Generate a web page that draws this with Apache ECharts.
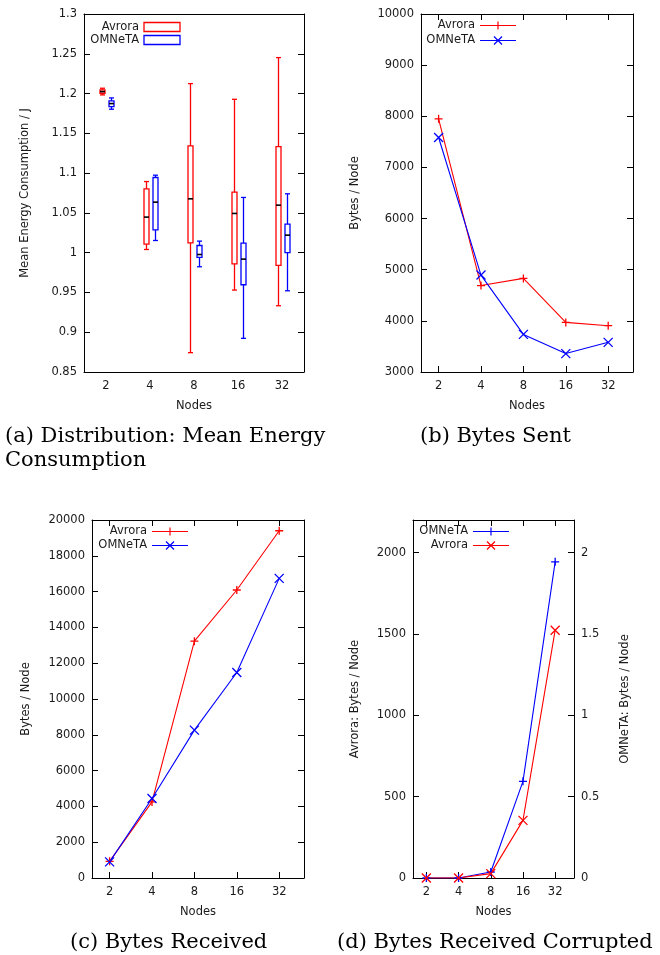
<!DOCTYPE html>
<html>
<head>
<meta charset="utf-8">
<script src="https://cdn.jsdelivr.net/npm/echarts@6/dist/echarts.min.js"></script>
<style>
  html, body { margin: 0; padding: 0; background: #fff; }
  #main { width: 660px; height: 955px; }
</style>
</head>
<body>
<div id="main"></div>
<script>
// x categories (number of nodes)
var nodes = [2, 4, 8, 16, 32];

// (a) energy distribution: [min, q1, median, q3, max]
var avroraEnergy = [
  [1.1983, 1.2004, 1.2025, 1.2046, 1.2067],
  [1.004, 1.0107, 1.0447, 1.0802, 1.0894],
  [0.8743, 1.0124, 1.0677, 1.1342, 1.2125],
  [0.953, 0.986, 1.0493, 1.076, 1.1928],
  [0.9333, 0.984, 1.0597, 1.1334, 1.2452]
];
var omnetaEnergy = [
  [1.1803, 1.1836, 1.1874, 1.1907, 1.1945],
  [1.0153, 1.0287, 1.0635, 1.0945, 1.0974],
  [0.9823, 0.994, 0.9977, 1.009, 1.0145],
  [0.8923, 0.9597, 0.9919, 1.012, 1.0694],
  [0.9521, 1.0, 1.022, 1.0359, 1.074]
];

// (b) bytes sent
var avroraSent = [7950, 4690, 4830, 3970, 3905];
var omnetaSent = [7585, 4895, 3735, 3360, 3580];

// (c) bytes received
var avroraRecv = [930, 4250, 13230, 16090, 19400];
var omnetaRecv = [900, 4440, 8260, 11480, 16740];

// (d) bytes received corrupted (Avrora left axis, OMNeTA right axis)
var avroraCorrupt = [0, 0, 27, 354, 1523];
var omnetaCorrupt = [0, 0, 0.037, 0.594, 1.943];

var RED = '#ff0000';
var BLUE = '#0000ff';
var TXT = '#1a1a1a';
var FONT = 'DejaVu Sans';
var PLUS = 'path://M5,0L5,10M0,5L10,5';
var CROSS = 'path://M0,0L10,10M10,0L0,10';
var LEG_PLUS = 'path://M0,5L36,5M18,1L18,9';
var LEG_CROSS = 'path://M0,5L36,5M14,1L22,9M22,1L14,9';

var chart = echarts.init(document.getElementById('main'), null, { renderer: 'canvas' });

var logNodes = nodes.map(function (n) { return Math.log2(n); });

function pairs(vals) {
  return vals.map(function (v, i) { return [logNodes[i], v]; });
}

function plain(v) {
  return String(parseFloat(Number(v).toFixed(6)));
}

var nameStyle = { color: TXT, fontSize: 11.5, fontFamily: FONT };

// x axis for the line panels (log2 spaced nodes)
function nodeAxis(grid, top) {
  return {
    type: 'value', gridIndex: grid, position: top ? 'top' : 'bottom',
    min: Math.log2(1.5), max: Math.log2(48),
    name: top ? '' : 'Nodes', nameLocation: 'middle', nameGap: 28, nameTextStyle: nameStyle,
    axisLine: { show: true, onZero: false, lineStyle: { color: '#000', width: 1 } },
    axisTick: { show: true, inside: true, length: 6, customValues: logNodes, lineStyle: { color: '#000' } },
    axisLabel: {
      show: !top, margin: 8, customValues: logNodes,
      color: TXT, fontSize: 11.5, fontFamily: FONT,
      formatter: function (v) { return String(Math.round(Math.pow(2, v))); }
    },
    splitLine: { show: false }
  };
}

function valAxis(grid, opt) {
  var right = opt.right;
  return {
    type: 'value', gridIndex: grid, position: right ? 'right' : 'left',
    min: opt.min, max: opt.max, interval: opt.interval,
    name: opt.name || '', nameLocation: 'middle', nameGap: opt.gap || 50, nameRotate: 90,
    nameTextStyle: nameStyle,
    axisLine: { show: true, onZero: false, lineStyle: { color: '#000', width: 1 } },
    axisTick: { show: true, inside: true, length: 6, lineStyle: { color: '#000' } },
    axisLabel: {
      show: !!opt.labels, margin: 7, showMaxLabel: opt.showMax !== false,
      color: TXT, fontSize: 11.5, fontFamily: FONT, formatter: plain
    },
    splitLine: { show: false }
  };
}

function boxItem(color, shift) {
  return function (params, api) {
    var i = api.value(0);
    var pts = [1, 2, 3, 4, 5].map(function (k) { return api.coord([i, api.value(k)]); });
    var x = Math.round(pts[0][0] + shift) + 0.5;
    var hw = 2.5;
    function ln(x1, y1, x2, y2, c, w) {
      return { type: 'line', shape: { x1: x1, y1: y1, x2: x2, y2: y2 },
        style: { stroke: c || color, lineWidth: w || 1.3 } };
    }
    return {
      type: 'group',
      children: [
        ln(x, pts[0][1], x, pts[1][1]),
        ln(x, pts[3][1], x, pts[4][1]),
        ln(x - hw, pts[0][1], x + hw, pts[0][1]),
        ln(x - hw, pts[4][1], x + hw, pts[4][1]),
        { type: 'rect', shape: { x: x - hw, y: pts[3][1], width: hw * 2, height: pts[1][1] - pts[3][1] },
          style: { fill: 'none', stroke: color, lineWidth: 1.3 } },
        ln(x - hw, pts[2][1], x + hw, pts[2][1], '#000', 1.6)
      ]
    };
  };
}

function lineSeries(name, vals, color, symbol, size, xi, yi) {
  return {
    name: name, type: 'line', xAxisIndex: xi, yAxisIndex: yi,
    data: pairs(vals), symbol: symbol, symbolSize: size, showSymbol: true,
    lineStyle: { color: color, width: 1.1 },
    itemStyle: { color: color, borderColor: color, borderWidth: 1.3 },
    emphasis: { disabled: true }
  };
}

function legendFor(left, top, gap, items) {
  return {
    orient: 'vertical', left: left, top: top, padding: 0, itemGap: gap,
    align: 'right', itemWidth: 36, itemHeight: 9, selectedMode: false,
    textStyle: { color: TXT, fontSize: 11.5, fontFamily: FONT, width: 50, lineHeight: 13 },
    data: items
  };
}

function legItem(name, icon, color) {
  return { name: name, icon: icon,
    itemStyle: { color: 'transparent', borderColor: color, borderWidth: 1.2 } };
}

var capStyle = { fontFamily: 'DejaVu Serif', fontSize: 21, fontWeight: 'normal', color: '#000', lineHeight: 24 };

var option = {
  animation: false,
  backgroundColor: '#fff',
  title: [
    { text: '(a) Distribution: Mean Energy\nConsumption', left: 5, top: 425, padding: 0, textStyle: capStyle },
    { text: '(b) Bytes Sent', left: 420, top: 425, padding: 0, textStyle: capStyle },
    { text: '(c) Bytes Received', left: 70, top: 931, padding: 0, textStyle: capStyle },
    { text: '(d) Bytes Received Corrupted', left: 337, top: 931, padding: 0, textStyle: capStyle }
  ],
  grid: [
    { left: 84, top: 14, width: 220, height: 358 },
    { left: 421, top: 14, width: 212, height: 358 },
    { left: 92, top: 520, width: 212, height: 358 },
    { left: 413, top: 520, width: 161, height: 358 }
  ],
  legend: [
    legendFor(89, 20.5, 0, [
      { name: 'Avrora', icon: 'rect', itemHeight: 7, itemStyle: { color: 'transparent', borderColor: RED, borderWidth: 1.3 } },
      { name: 'OMNeTA', icon: 'rect', itemHeight: 7, itemStyle: { color: 'transparent', borderColor: BLUE, borderWidth: 1.3 } }
    ]),
    legendFor(425, 19, 2, [legItem('Avrora', LEG_PLUS, RED), legItem('OMNeTA', LEG_CROSS, BLUE)]),
    legendFor(97, 525, 1, [legItem('Avrora', LEG_PLUS, RED), legItem('OMNeTA', LEG_CROSS, BLUE)]),
    legendFor(418, 525, 1, [legItem('OMNeTA', LEG_PLUS, BLUE), legItem('Avrora', LEG_CROSS, RED)])
  ],
  xAxis: [
    {
      type: 'category', gridIndex: 0, data: nodes.map(String), boundaryGap: true,
      name: 'Nodes', nameLocation: 'middle', nameGap: 28, nameTextStyle: nameStyle,
      axisLine: { show: true, lineStyle: { color: '#000', width: 1 } },
      axisTick: { show: false },
      axisLabel: { margin: 8, color: TXT, fontSize: 11.5, fontFamily: FONT },
      splitLine: { show: false }
    },
    {
      type: 'category', gridIndex: 0, data: nodes.map(String), position: 'top',
      axisLine: { show: true, lineStyle: { color: '#000', width: 1 } },
      axisTick: { show: false }, axisLabel: { show: false }, splitLine: { show: false }
    },
    nodeAxis(1, false), nodeAxis(1, true),
    nodeAxis(2, false), nodeAxis(2, true),
    nodeAxis(3, false), nodeAxis(3, true)
  ],
  yAxis: [
    valAxis(0, { min: 0.85, max: 1.3, interval: 0.05, labels: true, name: 'Mean Energy Consumption / J', gap: 53 }),
    valAxis(0, { min: 0.85, max: 1.3, interval: 0.05, right: true }),
    valAxis(1, { min: 3000, max: 10000, interval: 1000, labels: true, name: 'Bytes / Node', gap: 60 }),
    valAxis(1, { min: 3000, max: 10000, interval: 1000, right: true }),
    valAxis(2, { min: 0, max: 20000, interval: 2000, labels: true, name: 'Bytes / Node', gap: 60 }),
    valAxis(2, { min: 0, max: 20000, interval: 2000, right: true }),
    valAxis(3, { min: 0, max: 2200, interval: 500, labels: true, showMax: false, name: 'Avrora: Bytes / Node', gap: 52 }),
    valAxis(3, { min: 0, max: 2.2, interval: 0.5, labels: true, showMax: false, right: true, name: 'OMNeTA: Bytes / Node', gap: 45 })
  ],
  series: [
    {
      name: 'Avrora', type: 'custom', xAxisIndex: 0, yAxisIndex: 0,
      renderItem: boxItem(RED, -4.5), encode: { x: 0, y: [1, 2, 3, 4, 5] },
      data: avroraEnergy.map(function (d, i) { return [i].concat(d); })
    },
    {
      name: 'OMNeTA', type: 'custom', xAxisIndex: 0, yAxisIndex: 0,
      renderItem: boxItem(BLUE, 4.5), encode: { x: 0, y: [1, 2, 3, 4, 5] },
      data: omnetaEnergy.map(function (d, i) { return [i].concat(d); })
    },
    lineSeries('Avrora', avroraSent, RED, PLUS, 8, 2, 2),
    lineSeries('OMNeTA', omnetaSent, BLUE, CROSS, 9, 2, 2),
    lineSeries('Avrora', avroraRecv, RED, PLUS, 8, 4, 4),
    lineSeries('OMNeTA', omnetaRecv, BLUE, CROSS, 9, 4, 4),
    lineSeries('OMNeTA', omnetaCorrupt, BLUE, PLUS, 8, 6, 7),
    lineSeries('Avrora', avroraCorrupt, RED, CROSS, 9, 6, 6)
  ]
};

chart.setOption(option);
</script>
</body>
</html>
